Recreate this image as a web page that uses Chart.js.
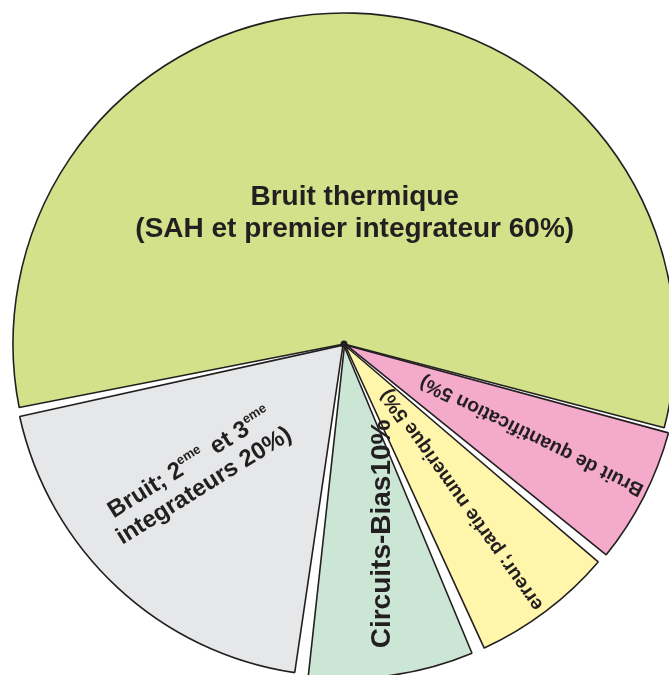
<!DOCTYPE html>
<html>
<head>
<meta charset="utf-8">
<script src="https://cdn.jsdelivr.net/npm/chart.js@4.4.0/dist/chart.umd.min.js"></script>
<style>
  html, body { margin: 0; padding: 0; background: #fff; overflow: hidden; }
  #wrap { width: 669px; height: 675px; }
</style>
</head>
<body>
<div id="wrap"><canvas id="myChartPie" width="669" height="675"></canvas></div>
<script>
// data (clockwise, starting with the big slice)
var categories = ['Bruit thermique', 'Bruit de quantification', 'erreur; partie numerique', 'Circuits-Bias', 'Bruit; 2eme et 3eme integrateurs'];
// share of the turn each slice takes in the picture (%)
var shares = [57.4, 6.9, 7.4, 8.6, 19.7];
// text written in each slice, '^' switches superscript on/off
var sliceText = [
  ['Bruit thermique', '(SAH et premier integrateur 60%)'],
  ['Bruit de quantification 5%)'],
  ['erreur; partie numerique 5%)'],
  ['Circuits-Bias10%'],
  ['Bruit; 2^eme ^ et 3^eme^', 'integrateurs 20%)']
];

// styles
var ink = '#231f20';
var sliceColors = ['#d3e28a', '#f3aacb', '#fff5ab', '#cce6d6', '#e6e7e8'];
var sliceOffsets = [0, 14, 10, 10, 6];
var gapDeg = [1.4, 0.5, 1.5, 2.0, 2.1]; // white wedge before each slice
var labelStyles = [
  { size: 28, lead: 32, turn: 2.8, dist: 0.404, rotate: 0 },
  { size: 19.5, lead: 22, turn: -0.6, dist: 0.631, rotate: -153.6 },
  { size: 19.5, lead: 22, turn: 0.45, dist: 0.590, rotate: -125.5 },
  { size: 28, lead: 32, turn: -2.6, dist: 0.584, rotate: -90 },
  { size: 24, lead: 27, turn: 6.0, dist: 0.593, rotate: -32 }
];

function fontFor(size) {
  return 'bold ' + size + 'px "Liberation Sans", Arial, sans-serif';
}

var sliceGaps = {
  id: 'sliceGaps',
  afterDatasetsUpdate: function (chart) {
    var arcs = chart.getDatasetMeta(0).data;
    var n = arcs.length;
    for (var i = 0; i < n; i++) {
      arcs[i].startAngle += gapDeg[i] / 2 * Math.PI / 180;
      arcs[i].endAngle -= gapDeg[(i + 1) % n] / 2 * Math.PI / 180;
    }
  }
};

function drawLine(ctx, line, y, size) {
  var parts = line.split('^');
  var supSize = Math.round(size * 0.55);
  var w = 0;
  parts.forEach(function (p, k) {
    ctx.font = fontFor(k % 2 ? supSize : size);
    w += ctx.measureText(p).width;
  });
  var x = -w / 2;
  parts.forEach(function (p, k) {
    var sup = k % 2 === 1;
    ctx.font = fontFor(sup ? supSize : size);
    ctx.fillText(p, x, sup ? y - size * 0.43 : y);
    x += ctx.measureText(p).width;
  });
}

var sliceLabels = {
  id: 'sliceLabels',
  afterDatasetsDraw: function (chart) {
    var ctx = chart.ctx;
    var arcs = chart.getDatasetMeta(0).data;
    var cx = arcs[0].x, cy = arcs[0].y, r = arcs[0].outerRadius;
    ctx.save();
    ctx.fillStyle = ink;
    ctx.beginPath();
    ctx.arc(cx, cy, 3.5, 0, 2 * Math.PI);
    ctx.fill();
    ctx.textBaseline = 'alphabetic';
    ctx.textAlign = 'left';
    for (var i = 0; i < arcs.length; i++) {
      var st = labelStyles[i];
      var a = arcs[i];
      var mid = (a.startAngle + a.endAngle) / 2 + st.turn * Math.PI / 180;
      var lines = sliceText[i];
      ctx.save();
      ctx.translate(cx + Math.cos(mid) * st.dist * r, cy + Math.sin(mid) * st.dist * r);
      ctx.rotate(st.rotate * Math.PI / 180);
      for (var k = 0; k < lines.length; k++) {
        var y = (k - (lines.length - 1) / 2) * st.lead + 0.36 * st.size;
        drawLine(ctx, lines[k], y, st.size);
      }
      ctx.restore();
    }
    ctx.restore();
  }
};

var ctx = document.getElementById('myChartPie');
var myChart = new Chart(ctx, {
  type: 'pie',
  data: {
    labels: categories,
    datasets: [{
      data: shares,
      backgroundColor: sliceColors,
      borderColor: ink,
      borderWidth: 1.6,
      offset: sliceOffsets
    }]
  },
  options: {
    responsive: false,
    devicePixelRatio: 1,
    animation: false,
    events: [],
    rotation: 258.25,
    radius: 331,
    layout: { padding: { left: 19, top: 13, right: 0, bottom: 0 } },
    plugins: {
      legend: { display: false },
      tooltip: { enabled: false }
    }
  },
  plugins: [sliceGaps, sliceLabels]
});
</script>
</body>
</html>
